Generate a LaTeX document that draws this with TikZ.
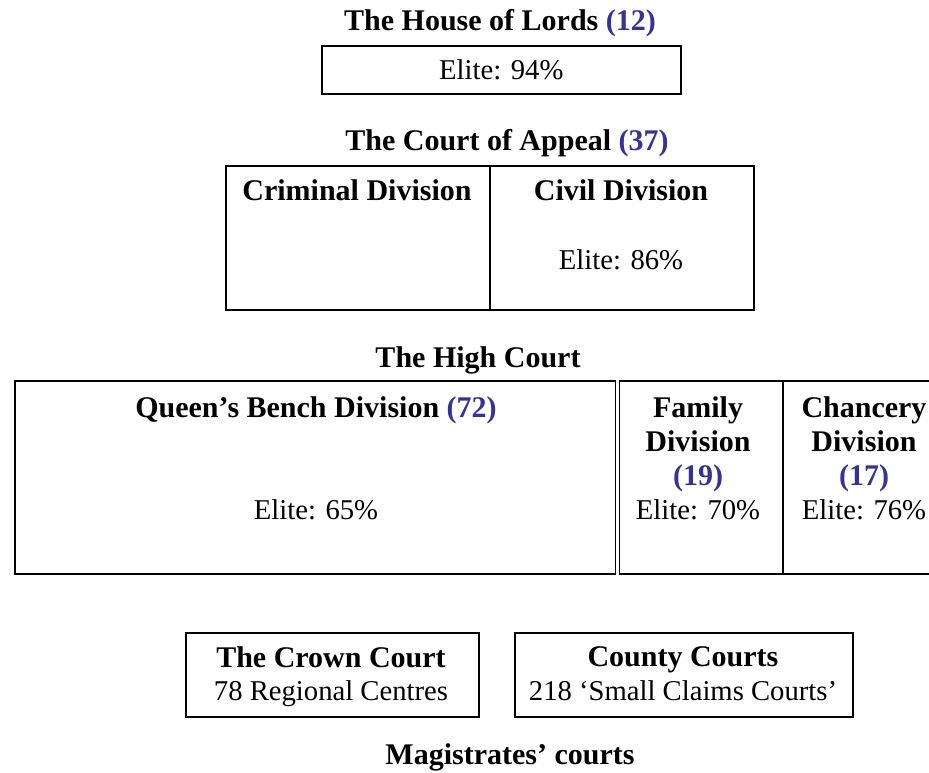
\documentclass[tikz,border=0pt]{standalone}
\usepackage{fontspec}
\setmainfont{Liberation Serif}
\usetikzlibrary{positioning}
\definecolor{countblue}{RGB}{51,51,153}
\tikzset{
  court/.style={draw, line width=1.2pt, inner sep=0pt, anchor=north west},
  heading/.style={font=\bfseries\fontsize{22.5}{25.5}\selectfont, align=center, inner sep=0pt, text depth=0pt},
  body/.style={font=\fontsize{21.5}{25.5}\selectfont, align=center, inner sep=0pt, text depth=0pt},
}
\newcommand{\judges}[1]{\textcolor{countblue}{(#1)}}
\begin{document}
\begin{tikzpicture}[x=0.75pt, y=-0.75pt]
    \useasboundingbox (0,0) rectangle (929,772);
    \clip (0,0) rectangle (929,772);

    \node[heading] (lordsT) at (500,20) {The House of Lords \judges{12}};
    \node[court, minimum width=269.25pt, minimum height=36pt] (lords) at (321,45) {};
    \node[body] (lordsE) at (lords.center) {Elite: 94\%};

    \node[heading] (appealT) at (507,140) {The Court of Appeal \judges{37}};
    \node[court, minimum width=198pt, minimum height=108pt] (criminal) at (225,165) {};
    \node[court, minimum width=198pt, minimum height=108pt] (civil) at (489,165) {};
    \node[heading] (criminalT) at (357,190) {Criminal Division};
    \node[heading] (civilT) at (621,190) {Civil Division};
    \node[body] (civilE) at (621,260) {Elite: 86\%};

    \node[heading] (highT) at (478,357) {The High Court};
    \node[court, minimum width=451.5pt, minimum height=144.75pt] (bench) at (14,380) {};
    \node[court, minimum width=124.5pt, minimum height=144.75pt] (family) at (616,380) {};
    \node[court, minimum width=123pt, minimum height=144.75pt] (chancery) at (782,380) {};
    \draw[line width=0.9pt, double, double distance=2.4pt] (bench.north east) -- (bench.south east);
    \node[heading] (benchT) at (316,407) {Queen’s Bench Division \judges{72}};
    \node[body] (benchE) at (316,510) {Elite: 65\%};
    \node[heading] (familyT) at (698,441) {Family\\Division\\\judges{19}};
    \node[body] (familyE) at (698,510) {Elite: 70\%};
    \node[heading] (chanceryT) at (864,441) {Chancery\\Division\\\judges{17}};
    \node[body] (chanceryE) at (864,510) {Elite: 76\%};

    \node[court, minimum width=219.75pt, minimum height=63pt] (crown) at (185,632) {};
    \node[heading] (crownT) at (331,657) {The Crown Court};
    \node[body] (crownE) at (331,691) {78 Regional Centres};
    \node[court, minimum width=253.5pt, minimum height=63pt] (county) at (514,632) {};
    \node[heading] (countyT) at (683,657) {County Courts};
    \node[body] (countyE) at (683,691) {218 ‘Small Claims Courts’};

    \node[heading] (magistratesT) at (510,754) {Magistrates’ courts};
\end{tikzpicture}
\end{document}
